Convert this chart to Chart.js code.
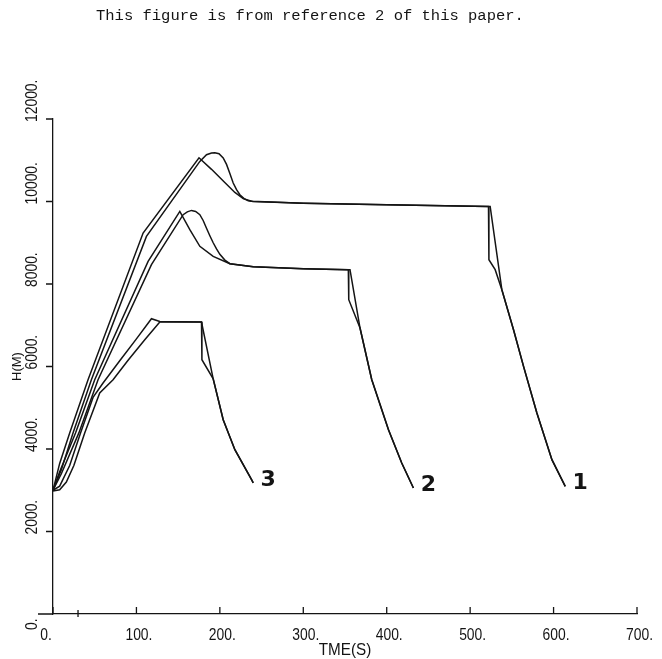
<!DOCTYPE html>
<html>
<head>
<meta charset="utf-8">
<script src="https://cdn.jsdelivr.net/npm/chart.js@4.4.0/dist/chart.umd.min.js"></script>
<style>
html, body { margin: 0; padding: 0; background: #fff; }
canvas { display: block; }
</style>
</head>
<body>
<canvas id="heightChart" width="662" height="659"></canvas>
<script>

// texts
const titleText = "This figure is from reference 2 of this paper.";
const xTitle = "TME(S)";
const yTitle = "H(M)";
const curveNames = ["1", "2", "3"];

// axis ticks
const xTicks = [0, 100, 200, 300, 400, 500, 600, 700];
const yTicks = [0, 2000, 4000, 6000, 8000, 10000, 12000];
const extraTick = 30;

// case 1 (sharp peak / rounded peak)
const t1a = [0, 8, 20, 42, 108, 175, 190, 205, 218, 228, 238, 300, 400, 522, 522.5, 530, 538, 552, 564, 580, 598, 614];
const h1a = [3000, 3650, 4390, 5680, 9236, 11060, 10780, 10480, 10220, 10070, 10005, 9960, 9920, 9881, 8589, 8347, 7862, 6892, 6002, 4873, 3741, 3093];
const t1b = [0, 10, 24, 46, 112, 176, 184, 190, 194, 199, 204, 208, 212, 216, 220, 224, 229, 234, 240, 300, 400, 522, 524, 538, 552, 564, 580, 598, 614];
const h1b = [3000, 3500, 4390, 5680, 9154, 10972, 11135, 11175, 11183, 11160, 11055, 10900, 10680, 10448, 10290, 10165, 10070, 10019, 10000, 9960, 9920, 9881, 9881, 7862, 6892, 6002, 4873, 3741, 3093];

// case 2
const t2a = [0, 8, 27, 50, 114, 152, 164, 176, 192, 212, 240, 300, 354, 354.5, 368, 382, 402, 418, 432];
const h2a = [3000, 3450, 4390, 5680, 8548, 9760, 9318, 8913, 8669, 8492, 8420, 8370, 8347, 7620, 6933, 5686, 4474, 3661, 3055];
const t2b = [0, 10, 31, 54, 118, 156, 161, 166, 171, 176, 180, 184, 188, 192, 196, 200, 206, 212, 240, 300, 354, 356, 368, 382, 402, 418, 432];
const h2b = [3000, 3400, 4390, 5680, 8468, 9680, 9750, 9784, 9760, 9680, 9540, 9350, 9170, 9000, 8850, 8720, 8580, 8492, 8420, 8370, 8347, 8347, 6933, 5686, 4474, 3661, 3055];

// case 3
const t3a = [0, 8, 20, 33, 48, 60, 80, 100, 118, 128, 178, 178.5, 192, 204, 218, 238, 240];
const h3a = [3000, 3100, 3600, 4390, 5250, 5600, 6140, 6670, 7159, 7090, 7079, 6165, 5700, 4710, 3983, 3256, 3180];
const t3b = [0, 8, 16, 25, 38, 56, 72, 90, 110, 128, 178, 192, 204, 218, 238, 240];
const h3b = [2980, 3010, 3200, 3600, 4390, 5358, 5680, 6150, 6650, 7080, 7079, 5700, 4710, 3983, 3256, 3180];

const ink = "#141414";

function toPoints(t, h){
  return t.map((x, i) => ({ x: x, y: h[i] }));
}

function series(t, h){
  return {
    data: toPoints(t, h),
    borderColor: ink,
    borderWidth: 1.5,
    pointRadius: 0,
    fill: false,
    tension: 0
  };
}

const axisDecor = {
  id: "axisDecor",
  afterDraw(chart){
    const ctx = chart.ctx;
    const xs = chart.scales.x;
    const ys = chart.scales.y;
    const x0 = xs.getPixelForValue(0);
    const y0 = ys.getPixelForValue(0);

    ctx.save();
    ctx.strokeStyle = ink;
    ctx.fillStyle = ink;
    ctx.lineWidth = 1.3;

    // axis stub left of origin and tick marks
    ctx.beginPath();
    ctx.moveTo(x0 - 15, y0);
    ctx.lineTo(x0, y0);
    xTicks.forEach(v => {
      const px = xs.getPixelForValue(v);
      ctx.moveTo(px, y0);
      ctx.lineTo(px, y0 - 7);
    });
    yTicks.forEach(v => {
      const py = ys.getPixelForValue(v);
      ctx.moveTo(x0 - 7, py);
      ctx.lineTo(x0, py);
    });
    const ex = xs.getPixelForValue(extraTick);
    ctx.moveTo(ex, y0 - 4);
    ctx.lineTo(ex, y0 + 3);
    ctx.stroke();

    // tick labels
    ctx.font = "17px 'Liberation Sans', sans-serif";
    const sx = 27 / ctx.measureText("100.").width;
    ctx.textBaseline = "alphabetic";

    xTicks.forEach(v => {
      const px = xs.getPixelForValue(v) + (v === 0 ? -7 : 2.5);
      ctx.save();
      ctx.translate(px, 640);
      ctx.scale(sx, 1);
      ctx.textAlign = "center";
      ctx.fillText(v + ".", 0, 0);
      ctx.restore();
    });

    yTicks.forEach(v => {
      const py = ys.getPixelForValue(v) + (v === 0 ? 16 : 3);
      ctx.save();
      ctx.translate(x0 - 16, py);
      ctx.rotate(-Math.PI / 2);
      ctx.scale(sx, 1);
      ctx.textAlign = "left";
      ctx.fillText(v + ".", 0, 0);
      ctx.restore();
    });

    // axis titles
    ctx.save();
    ctx.translate((xs.left + xs.right) / 2, 655);
    ctx.scale(sx * 1.1, 1);
    ctx.textAlign = "center";
    ctx.fillText(xTitle, 0, 0);
    ctx.restore();

    ctx.save();
    ctx.font = "13px 'Liberation Sans', sans-serif";
    ctx.translate(21, ys.getPixelForValue(6000));
    ctx.rotate(-Math.PI / 2);
    ctx.textAlign = "center";
    ctx.fillText(yTitle, 0, 0);
    ctx.restore();

    // curve numbers at the end of each case
    ctx.font = "bold 22px 'DejaVu Sans', sans-serif";
    ctx.textAlign = "center";
    ctx.textBaseline = "middle";
    const ends = [[t1a, h1a], [t2a, h2a], [t3a, h3a]];
    ends.forEach((e, i) => {
      const n = e[0].length - 1;
      const px = xs.getPixelForValue(e[0][n]);
      const py = ys.getPixelForValue(e[1][n]);
      ctx.fillText(curveNames[i], px + 15, py - 3);
    });

    // page note on top
    ctx.font = "15.5px 'Liberation Mono', monospace";
    ctx.textAlign = "left";
    ctx.textBaseline = "alphabetic";
    ctx.fillText(titleText, 96, 19.5);

    ctx.restore();
  }
};

new Chart(document.getElementById("heightChart").getContext("2d"), {
  type: "line",
  data: {
    datasets: [
      series(t1a, h1a), series(t1b, h1b),
      series(t2a, h2a), series(t2b, h2b),
      series(t3a, h3a), series(t3b, h3b)
    ]
  },
  options: {
    responsive: false,
    animation: false,
    layout: { padding: { left: 53, right: 25, top: 119, bottom: 45 } },
    plugins: {
      legend: { display: false },
      tooltip: { enabled: false },
      title: { display: false }
    },
    scales: {
      x: {
        type: "linear",
        min: 0,
        max: 700,
        grid: { display: false, drawTicks: false },
        ticks: { display: false },
        border: { color: ink, width: 1.3 }
      },
      y: {
        type: "linear",
        min: 0,
        max: 12000,
        grid: { display: false, drawTicks: false },
        ticks: { display: false },
        border: { color: ink, width: 1.3 }
      }
    }
  },
  plugins: [axisDecor]
});

</script>
</body>
</html>
